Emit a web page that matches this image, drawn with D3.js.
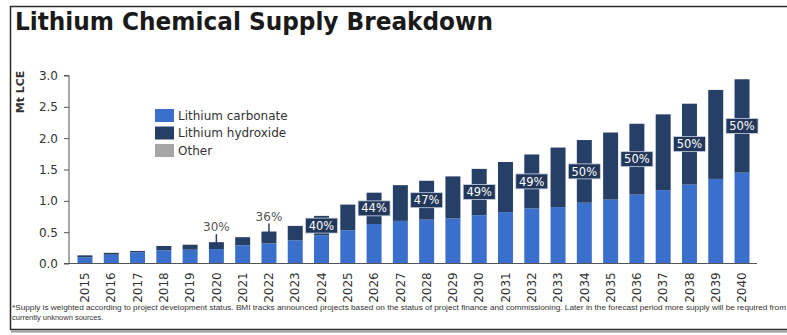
<!DOCTYPE html>
<html>
<head>
<meta charset="utf-8">
<script src="https://cdn.jsdelivr.net/npm/d3@7"></script>
<style>
  html, body { margin: 0; padding: 0; background: #ffffff; }
  svg { display: block; }
</style>
</head>
<body>
<svg id="chart" width="787" height="335"></svg>
<script>
const years = ["2015","2016","2017","2018","2019","2020","2021","2022","2023","2024","2025","2026","2027","2028","2029","2030","2031","2032","2033","2034","2035","2036","2037","2038","2039","2040"];
const carbonate = [0.10,0.14,0.18,0.21,0.22,0.23,0.29,0.32,0.37,0.45,0.53,0.63,0.68,0.70,0.72,0.77,0.82,0.88,0.90,0.97,1.02,1.10,1.17,1.26,1.35,1.45];
const hydroxide = [0.03,0.03,0.02,0.07,0.08,0.11,0.13,0.19,0.23,0.31,0.41,0.50,0.57,0.62,0.67,0.74,0.80,0.86,0.95,1.00,1.07,1.13,1.21,1.29,1.42,1.49];
const other = [0,0,0,0,0,0,0,0,0,0,0,0,0,0,0,0,0,0,0,0,0,0,0,0,0,0];
const seriesNames = ["Lithium carbonate","Lithium hydroxide","Other"];
const yTicks = [0,0.5,1.0,1.5,2.0,2.5,3.0];
const labelYears = ["2020","2022","2024","2026","2028","2030","2032","2034","2036","2038","2040"];
const labelPcts = ["30%","36%","40%","44%","47%","49%","49%","50%","50%","50%","50%"];
const plainLabelYears = ["2020","2022"];
const title = "Lithium Chemical Supply Breakdown";
const yTitle = "Mt LCE";
const footnote1 = "*Supply is weighted according to project development status. BMI tracks announced projects based on the status of project finance and commissioning. Later in the forecast period more supply will be required from";
const footnote2 = "currently unknown sources.";

const colors = { "Lithium carbonate": "#3b6fcc", "Lithium hydroxide": "#263f66", "Other": "#a6a6a6" };
const font = "'DejaVu Sans', sans-serif";

const svg = d3.select("#chart");

// frame
svg.append("path")
  .attr("d", "M787,6.5 L10.5,6.5 L10.5,329.5 L787,329.5")
  .attr("fill", "none").attr("stroke", "#2b2b2b").attr("stroke-width", 1.5);
svg.append("line").attr("x1", 11).attr("x2", 787).attr("y1", 331.5).attr("y2", 331.5)
  .attr("stroke", "#9a9a9a").attr("stroke-width", 2);

// title
svg.append("text").attr("x", 15).attr("y", 30)
  .attr("font-family", font).attr("font-weight", "bold").attr("font-size", 24)
  .attr("textLength", 478).attr("lengthAdjust", "spacingAndGlyphs")
  .attr("fill", "#1a1a1a").text(title);

const data = years.map((y, i) => ({ year: y, "Lithium carbonate": carbonate[i], "Lithium hydroxide": hydroxide[i], "Other": other[i] }));
const stack = d3.stack().keys(seriesNames)(data);

const x = d3.scaleBand().domain(years).range([70, 757]).paddingInner(0.43).paddingOuter(0.285);
const y = d3.scaleLinear().domain([0, 3.0]).range([263.5, 75.5]);

// bars
svg.append("g").selectAll("g").data(stack).join("g")
  .attr("fill", d => colors[d.key])
  .selectAll("rect").data(d => d).join("rect")
  .attr("x", d => x(d.data.year))
  .attr("width", x.bandwidth())
  .attr("y", d => y(d[1]))
  .attr("height", d => Math.max(0, y(d[0]) - y(d[1])));

// y axis
const yAxis = svg.append("g").attr("transform", "translate(69,0)")
  .call(d3.axisLeft(y).tickValues(yTicks).tickFormat(d3.format(".1f")).tickSize(5).tickPadding(6));
yAxis.select(".domain").attr("stroke", "#555").attr("d", "M-5,75.5H0V263.5H-5");
yAxis.selectAll(".tick line").attr("stroke", "#555");
yAxis.selectAll("text").attr("font-family", font).attr("font-size", 12).attr("fill", "#333");

// x axis
const xAxis = svg.append("g").attr("transform", "translate(0,263.5)")
  .call(d3.axisBottom(x).tickSize(0).tickPadding(6));
xAxis.select(".domain").attr("stroke", "#555").attr("d", "M69,0H757");
xAxis.selectAll("text")
  .attr("font-family", font).attr("font-size", 12).attr("fill", "#333")
  .attr("transform", "rotate(-90)")
  .attr("text-anchor", "end").attr("dx", "-0.4em").attr("dy", "0.35em").attr("x", -4).attr("y", 0);

// y title
svg.append("text").attr("transform", "translate(24,92) rotate(-90)")
  .attr("text-anchor", "middle").attr("font-family", font).attr("font-size", 11)
  .attr("font-weight", "bold").attr("fill", "#333").text(yTitle);

// legend
const lg = svg.append("g").attr("transform", "translate(155,109)");
seriesNames.forEach((n, i) => {
  lg.append("rect").attr("x", 0).attr("y", i * 17.5).attr("width", 19).attr("height", 13).attr("fill", colors[n]);
  lg.append("text").attr("x", 23).attr("y", i * 17.5 + 6.5).attr("dy", "0.35em")
    .attr("font-family", font).attr("font-size", 12).attr("fill", "#333").text(n);
});

// percentage labels
const idx = Object.fromEntries(years.map((yr, i) => [yr, i]));
labelYears.forEach((yr, k) => {
  const i = idx[yr];
  const cx = x(yr) + x.bandwidth() / 2;
  const c = carbonate[i], h = hydroxide[i];
  if (plainLabelYears.includes(yr)) {
    const top = y(c + h + other[i]);
    svg.append("line").attr("x1", cx).attr("x2", cx).attr("y1", top - 8).attr("y2", top + 2)
      .attr("stroke", "#263f66").attr("stroke-width", 1.5);
    svg.append("text").attr("x", cx).attr("y", top - 11)
      .attr("text-anchor", "middle").attr("font-family", font).attr("font-size", 12)
      .attr("fill", "#555").text(labelPcts[k]);
  } else {
    const cy = y(c + h / 2);
    svg.append("rect").attr("x", cx - 16).attr("y", cy - 7.5).attr("width", 32).attr("height", 15)
      .attr("fill", "#22375a").attr("stroke", "#c9d3e3").attr("stroke-width", 0.8);
    svg.append("text").attr("x", cx).attr("y", cy).attr("dy", "0.36em")
      .attr("text-anchor", "middle").attr("font-family", font).attr("font-size", 11.5)
      .attr("fill", "#ffffff").text(labelPcts[k]);
  }
});

// footnote
svg.append("text").attr("x", 12).attr("y", 310)
  .attr("font-family", "'Liberation Sans Narrow', 'Liberation Sans', sans-serif").attr("font-size", 7.5)
  .attr("fill", "#333").attr("textLength", 774).attr("lengthAdjust", "spacingAndGlyphs").text(footnote1);
svg.append("text").attr("x", 12).attr("y", 319.5)
  .attr("font-family", "'Liberation Sans Narrow', 'Liberation Sans', sans-serif").attr("font-size", 7.5)
  .attr("fill", "#333").text(footnote2);
</script>
</body>
</html>
